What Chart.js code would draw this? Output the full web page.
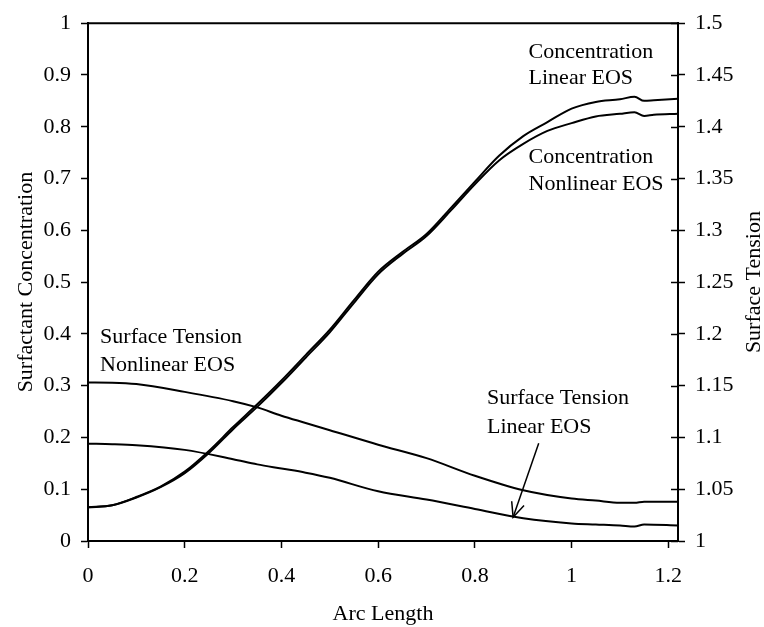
<!DOCTYPE html>
<html>
<head>
<meta charset="utf-8">
<script src="https://cdn.jsdelivr.net/npm/chart.js@4/dist/chart.umd.min.js"></script>
<style>
  html, body { margin: 0; padding: 0; background: #fff; }
  #chart { display: block; }
</style>
</head>
<body>
<canvas id="chart" width="764" height="627"></canvas>
<script>
// ---- data ----
const xTicks = [0, 0.2, 0.4, 0.6, 0.8, 1, 1.2];
const leftTicks = [0, 0.1, 0.2, 0.3, 0.4, 0.5, 0.6, 0.7, 0.8, 0.9, 1];
const rightTicks = [1, 1.05, 1.1, 1.15, 1.2, 1.25, 1.3, 1.35, 1.4, 1.45, 1.5];

// surfactant concentration (left axis)
const concX = [0, 0.05, 0.1, 0.15, 0.2, 0.25, 0.3, 0.35, 0.4, 0.45, 0.5, 0.55, 0.6, 0.65, 0.7, 0.75, 0.8, 0.85, 0.9, 0.95, 1.0, 1.05, 1.1, 1.13, 1.15, 1.17, 1.22];
const concLinear = [0.065, 0.069, 0.085, 0.105, 0.134, 0.174, 0.220, 0.264, 0.310, 0.359, 0.408, 0.465, 0.520, 0.558, 0.593, 0.643, 0.694, 0.744, 0.782, 0.809, 0.835, 0.848, 0.853, 0.858, 0.850, 0.851, 0.854];
const concNonlinear = [0.065, 0.069, 0.084, 0.104, 0.131, 0.170, 0.216, 0.259, 0.305, 0.354, 0.403, 0.460, 0.515, 0.554, 0.589, 0.638, 0.689, 0.735, 0.767, 0.792, 0.807, 0.820, 0.825, 0.828, 0.821, 0.823, 0.825];

// surface tension (right axis)
const stX = [0, 0.05, 0.1, 0.2, 0.3, 0.35, 0.4, 0.45, 0.5, 0.6, 0.7, 0.8, 0.9, 1.0, 1.05, 1.1, 1.13, 1.15, 1.22];
const stNonlinear = [1.153, 1.1528, 1.1515, 1.144, 1.135, 1.129, 1.121, 1.114, 1.107, 1.093, 1.080, 1.063, 1.049, 1.041, 1.039, 1.037, 1.037, 1.038, 1.038];
const stLinear = [1.094, 1.0935, 1.0925, 1.088, 1.079, 1.074, 1.070, 1.066, 1.061, 1.048, 1.040, 1.031, 1.022, 1.017, 1.016, 1.015, 1.014, 1.016, 1.015];

// curve labels, placed in data units (x, left-axis y of the baseline)
const notes = [
  { x: 0.911, y: 0.933, text: 'Concentration' },
  { x: 0.911, y: 0.882, text: 'Linear EOS' },
  { x: 0.911, y: 0.730, text: 'Concentration' },
  { x: 0.911, y: 0.677, text: 'Nonlinear EOS' },
  { x: 0.025, y: 0.382, text: 'Surface Tension' },
  { x: 0.025, y: 0.329, text: 'Nonlinear EOS' },
  { x: 0.825, y: 0.264, text: 'Surface Tension' },
  { x: 0.825, y: 0.209, text: 'Linear EOS' }
];
const arrowFrom = { x: 0.932, y: 0.189 };
const arrowTo = { x: 0.879, y: 0.046 };

const FONT = "'Liberation Serif', 'Times New Roman', serif";
Chart.defaults.font.family = FONT;
Chart.defaults.font.size = 22;
Chart.defaults.color = '#000';

const pts = (xs, ys) => xs.map((x, i) => ({ x: x, y: ys[i] }));

const lineStyle = {
  borderColor: '#000',
  borderWidth: 2,
  pointRadius: 0,
  fill: false,
  cubicInterpolationMode: 'monotone'
};

const decorPlugin = {
  id: 'decor',
  afterDraw(chart) {
    const { ctx, chartArea: a, scales } = chart;
    const { x, y, y1 } = scales;
    ctx.save();
    ctx.strokeStyle = '#000';
    ctx.fillStyle = '#000';

    // top frame line
    ctx.lineWidth = 2;
    ctx.beginPath();
    ctx.moveTo(a.left - 1, a.top);
    ctx.lineTo(a.right + 1, a.top);
    ctx.stroke();

    // right axis ticks cross the axis line
    ctx.lineWidth = 1.5;
    y1.ticks.forEach(t => {
      const py = Math.round(y1.getPixelForValue(t.value)) + 0.5;
      ctx.beginPath();
      ctx.moveTo(a.right - 7, py);
      ctx.lineTo(a.right, py);
      ctx.stroke();
    });

    // axis titles
    ctx.font = '22px ' + FONT;
    ctx.textBaseline = 'alphabetic';
    ctx.textAlign = 'center';
    const midY = (a.top + a.bottom) / 2;
    ctx.fillText('Arc Length', (a.left + a.right) / 2, 620);

    ctx.save();
    ctx.translate(31.5, midY);
    ctx.rotate(-Math.PI / 2);
    ctx.fillText('Surfactant Concentration', 0, 0);
    ctx.restore();

    ctx.save();
    ctx.translate(759.5, midY);
    ctx.rotate(-Math.PI / 2);
    ctx.fillText('Surface Tension', 0, 0);
    ctx.restore();

    // curve labels
    ctx.textAlign = 'left';
    notes.forEach(n => {
      ctx.fillText(n.text, x.getPixelForValue(n.x), y.getPixelForValue(n.y));
    });

    // arrow
    const x0 = x.getPixelForValue(arrowFrom.x), y0 = y.getPixelForValue(arrowFrom.y);
    const x1 = x.getPixelForValue(arrowTo.x), y1p = y.getPixelForValue(arrowTo.y);
    ctx.lineWidth = 1.5;
    ctx.beginPath();
    ctx.moveTo(x0, y0);
    ctx.lineTo(x1, y1p);
    ctx.stroke();
    const ang = Math.atan2(y0 - y1p, x0 - x1);
    const head = 16, spread = 0.42;
    ctx.beginPath();
    ctx.moveTo(x1 + head * Math.cos(ang - spread), y1p + head * Math.sin(ang - spread));
    ctx.lineTo(x1, y1p);
    ctx.lineTo(x1 + head * Math.cos(ang + spread), y1p + head * Math.sin(ang + spread));
    ctx.stroke();

    ctx.restore();
  }
};

const axisBase = {
  type: 'linear',
  border: { display: true, color: '#000', width: 2 },
  grid: { drawOnChartArea: false, drawTicks: true, tickLength: 7, tickColor: '#000', tickWidth: 1.5 },
  title: { display: false }
};

new Chart(document.getElementById('chart').getContext('2d'), {
  type: 'line',
  data: {
    datasets: [
      Object.assign({ label: 'Concentration Linear EOS', data: pts(concX, concLinear), yAxisID: 'y' }, lineStyle),
      Object.assign({ label: 'Concentration Nonlinear EOS', data: pts(concX, concNonlinear), yAxisID: 'y' }, lineStyle),
      Object.assign({ label: 'Surface Tension Nonlinear EOS', data: pts(stX, stNonlinear), yAxisID: 'y1' }, lineStyle),
      Object.assign({ label: 'Surface Tension Linear EOS', data: pts(stX, stLinear), yAxisID: 'y1' }, lineStyle)
    ]
  },
  options: {
    responsive: false,
    animation: false,
    layout: { padding: { top: 15, left: 0, right: 0, bottom: 0 } },
    plugins: {
      legend: { display: false },
      tooltip: { enabled: false }
    },
    scales: {
      x: Object.assign({}, axisBase, {
        position: 'bottom',
        min: 0,
        max: 1.22,
        afterBuildTicks: s => { s.ticks = xTicks.map(v => ({ value: v })); },
        afterFit: s => { s.height = 86; },
        ticks: { padding: 15, maxRotation: 0, autoSkip: false, callback: v => String(v) }
      }),
      y: Object.assign({}, axisBase, {
        position: 'left',
        min: 0,
        max: 1,
        afterBuildTicks: s => { s.ticks = leftTicks.map(v => ({ value: v })); },
        afterFit: s => { s.width = 88; },
        ticks: { padding: 10, autoSkip: false, callback: v => String(v) }
      }),
      y1: Object.assign({}, axisBase, {
        position: 'right',
        min: 1,
        max: 1.5,
        afterBuildTicks: s => { s.ticks = rightTicks.map(v => ({ value: v })); },
        afterFit: s => { s.width = 86; },
        ticks: { padding: 10, autoSkip: false, callback: v => String(v) }
      })
    }
  },
  plugins: [decorPlugin]
});
</script>
</body>
</html>
